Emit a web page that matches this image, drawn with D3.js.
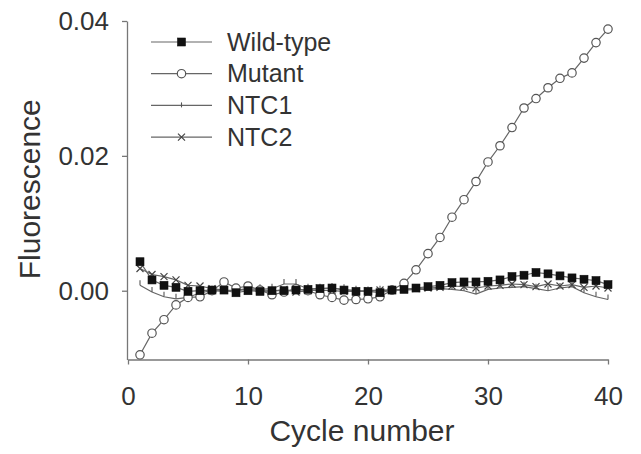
<!DOCTYPE html>
<html>
<head>
<meta charset="utf-8">
<script src="https://cdn.jsdelivr.net/npm/d3@7"></script>
<style>
  body { margin: 0; background: #fff; }
  text { font-family: "Liberation Sans", Arial, sans-serif; fill: #333; }
</style>
</head>
<body>
<div id="chart"></div>
<script>
const cycles = [1, 2, 3, 4, 5, 6, 7, 8, 9, 10, 11, 12, 13, 14, 15, 16, 17, 18, 19, 20,
  21, 22, 23, 24, 25, 26, 27, 28, 29, 30, 31, 32, 33, 34, 35, 36, 37, 38, 39, 40]

const wildType = [0.0043, 0.0016, 0.0008, 0.0005, -0.0001, 0.0000, 0.0001, 0.0001, -0.0003, 0.0000,
  -0.0001, 0.0000, 0.0000, 0.0001, 0.0002, 0.0003, 0.0004, 0.0001, -0.0001, -0.0001,
  -0.0003, 0.0001, 0.0002, 0.0004, 0.0006, 0.0008, 0.0012, 0.0013, 0.0013, 0.0014,
  0.0016, 0.0021, 0.0023, 0.0027, 0.0025, 0.0022, 0.0019, 0.0017, 0.0015, 0.0009]

const mutant = [-0.0095, -0.0063, -0.0043, -0.0021, -0.0010, -0.0009, 0.0000, 0.0013, 0.0004, 0.0007,
  0.0001, -0.0006, -0.0002, 0.0003, 0.0000, -0.0006, -0.0010, -0.0014, -0.0013, -0.0012,
  -0.0009, 0.0001, 0.0011, 0.0031, 0.0055, 0.0079, 0.0109, 0.0135, 0.0162, 0.0191,
  0.0215, 0.0242, 0.0271, 0.0285, 0.0301, 0.0315, 0.0323, 0.0345, 0.0368, 0.0388]

const ntc1 = [0.0008, -0.0002, -0.0009, -0.0012, -0.0010, -0.0003, 0.0000, -0.0001, 0.0001, 0.0003,
  0.0002, 0.0003, 0.0010, 0.0010, 0.0003, 0.0003, 0.0004, 0.0002, 0.0000, -0.0001,
  0.0000, 0.0001, 0.0001, 0.0002, 0.0002, 0.0003, 0.0002, 0.0000, -0.0005, 0.0002,
  0.0004, 0.0005, 0.0006, 0.0003, 0.0000, 0.0004, 0.0006, -0.0003, -0.0009, -0.0013]

const ntc2 = [0.0033, 0.0024, 0.0021, 0.0016, 0.0008, 0.0007, 0.0003, 0.0001, 0.0000, 0.0002,
  0.0000, -0.0001, 0.0002, -0.0002, 0.0000, 0.0001, 0.0000, -0.0001, -0.0001, 0.0000,
  0.0001, 0.0001, 0.0002, 0.0003, 0.0004, 0.0005, 0.0007, 0.0006, 0.0004, 0.0007,
  0.0008, 0.0010, 0.0009, 0.0006, 0.0010, 0.0007, 0.0009, 0.0005, 0.0007, 0.0004]

const xTicks = [0, 10, 20, 30, 40]
const yTicks = [0.00, 0.02, 0.04]
const seriesNames = ['Wild-type', 'Mutant', 'NTC1', 'NTC2']

const params = {
  width: 641,
  height: 454,
  marginTop: 21,
  marginBottom: 94.5,
  marginLeft: 128,
  marginRight: 33,
}

const lineColor = '#666'
const axisColor = '#777'

const svg = d3.select('#chart')
  .append('svg')
  .attr('width', params.width)
  .attr('height', params.height)

const x = d3.scaleLinear()
  .domain([0, 40])
  .range([params.marginLeft, params.width - params.marginRight])

const y = d3.scaleLinear()
  .domain([-0.0102, 0.04])
  .range([params.height - params.marginBottom, params.marginTop])

// axes
const xAxis = svg.append('g')
  .attr('transform', `translate(0,${y.range()[0]})`)
  .call(d3.axisBottom(x).tickValues(xTicks).tickSize(5).tickPadding(22).tickSizeOuter(0))
const yAxis = svg.append('g')
  .attr('transform', `translate(${x.range()[0] - 1},0)`)
  .call(d3.axisLeft(y).tickValues(yTicks).tickSize(5).tickPadding(13)
    .tickFormat(d3.format('.2f')).tickSizeOuter(0))

;[xAxis, yAxis].forEach(a => {
  a.selectAll('path, line').attr('stroke', axisColor).attr('stroke-width', 1.3)
  a.selectAll('text').style('font-size', '26px').attr('fill', '#333')
})

svg.append('text')
  .attr('x', (x.range()[0] + x.range()[1]) / 2 - 6)
  .attr('y', 441)
  .attr('text-anchor', 'middle')
  .style('font-size', '30px')
  .text('Cycle number')

svg.append('text')
  .attr('transform', `translate(40,${(y.range()[0] + y.range()[1]) / 2 - 1}) rotate(-90)`)
  .attr('text-anchor', 'middle')
  .style('font-size', '30px')
  .text('Fluorescence')

// markers
function drawMarker(g, kind, cx, cy) {
  if (kind === 'square') {
    g.append('rect')
      .attr('x', cx - 4).attr('y', cy - 4)
      .attr('width', 8).attr('height', 8)
      .attr('fill', '#111').attr('stroke', '#111').attr('stroke-width', 0.6)
  } else if (kind === 'circle') {
    g.append('circle')
      .attr('cx', cx).attr('cy', cy).attr('r', 4.2)
      .attr('fill', '#fff').attr('stroke', '#555').attr('stroke-width', 1.2)
  } else if (kind === 'tick') {
    g.append('line')
      .attr('x1', cx).attr('x2', cx).attr('y1', cy - 5).attr('y2', cy)
      .attr('stroke', '#555').attr('stroke-width', 1.1)
  } else if (kind === 'cross') {
    g.append('path')
      .attr('d', `M${cx - 3.5},${cy - 3.5}L${cx + 3.5},${cy + 3.5}M${cx - 3.5},${cy + 3.5}L${cx + 3.5},${cy - 3.5}`)
      .attr('stroke', '#444').attr('stroke-width', 1.2)
  }
}

const series = [
  { name: 'NTC1', values: ntc1, marker: 'tick' },
  { name: 'NTC2', values: ntc2, marker: 'cross' },
  { name: 'Mutant', values: mutant, marker: 'circle' },
  { name: 'Wild-type', values: wildType, marker: 'square' },
]

const line = d3.line()
  .x(d => x(d[0]))
  .y(d => y(d[1]))

const plot = svg.append('g')

series.forEach(s => {
  const pts = cycles.map((c, i) => [c, s.values[i]])
  plot.append('path')
    .datum(pts)
    .attr('d', line)
    .attr('fill', 'none')
    .attr('stroke', lineColor)
    .attr('stroke-width', 1.2)
})

series.forEach(s => {
  const g = plot.append('g')
  cycles.forEach((c, i) => drawMarker(g, s.marker, x(c), y(s.values[i])))
})

// legend
const legendMarkers = { 'Wild-type': 'square', 'Mutant': 'circle', 'NTC1': 'tick', 'NTC2': 'cross' }
const legend = svg.append('g')
seriesNames.forEach((name, i) => {
  const ly = 42 + i * 31.7
  legend.append('line')
    .attr('x1', 151).attr('x2', 212).attr('y1', ly).attr('y2', ly)
    .attr('stroke', lineColor).attr('stroke-width', 1.2)
  drawMarker(legend, legendMarkers[name], 181.5, name === 'NTC1' ? ly + 2 : ly)
  legend.append('text')
    .attr('x', 227).attr('y', ly)
    .attr('dy', '0.35em')
    .style('font-size', '25px')
    .text(name)
})
</script>
</body>
</html>
